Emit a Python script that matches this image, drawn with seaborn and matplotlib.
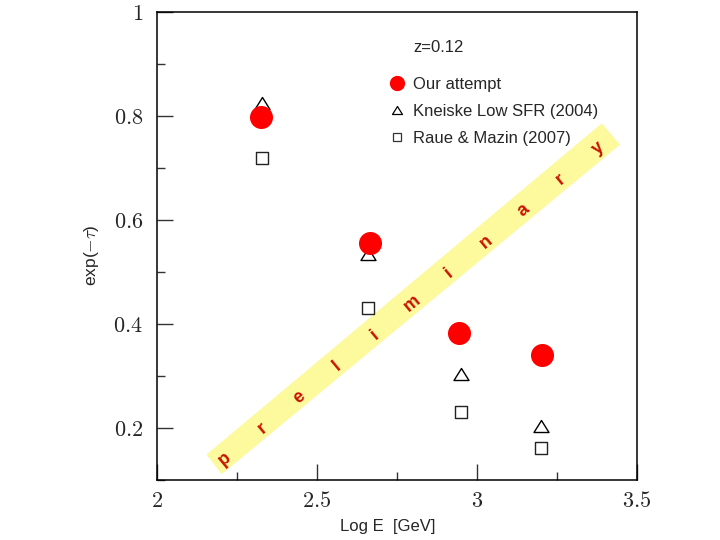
import numpy as np
import pandas as pd
import seaborn as sns
import matplotlib
matplotlib.use("Agg")
import matplotlib.pyplot as plt
from matplotlib.lines import Line2D
from matplotlib.patches import Polygon
from matplotlib.path import Path
from matplotlib.ticker import MultipleLocator, FuncFormatter

# ---- data ----
ours_x = [2.326, 2.665, 2.945, 3.204]
ours_y = [0.798, 0.555, 0.383, 0.341]
kneiske_x = [2.328, 2.660, 2.950, 3.199]
kneiske_y = [0.825, 0.534, 0.303, 0.204]
raue_x = [2.329, 2.658, 2.949, 3.199]
raue_y = [0.720, 0.431, 0.231, 0.161]

series_labels = ["Our attempt", "Kneiske Low SFR (2004)", "Raue & Mazin (2007)"]
redshift_label = "z=0.12"
watermark = "preliminary"

sns.set_theme(style="white")
plt.rcParams["font.family"] = ["Liberation Sans", "DejaVu Sans"]
plt.rcParams["mathtext.fontset"] = "cm"

fig = plt.figure(figsize=(7.2, 5.4), dpi=100)
ax = fig.add_axes([157 / 720, 60 / 540, 480 / 720, 468 / 540])

ax.set_xlim(2.0, 3.5)
ax.set_ylim(0.1, 1.0)

# yellow "preliminary" band
band = Polygon([(2.155, 0.149), (2.202, 0.111), (3.447, 0.745), (3.390, 0.786)],
               closed=True, facecolor="#fcfa9c", edgecolor="none", zorder=0.5)
ax.add_patch(band)
lx = np.linspace(2.2125, 3.379, len(watermark))
ly = np.linspace(0.1398, 0.738, len(watermark))
for ch, px, py in zip(watermark, lx, ly):
    ax.text(px, py, ch, color="#c81400", fontsize=13, fontweight="bold",
            rotation=39.8, ha="center", va="center", zorder=1)

tri = Path([(-1.0, -0.8), (1.0, -0.8), (0.0, 0.8), (-1.0, -0.8)], closed=True)

df_r = pd.DataFrame({"x": raue_x, "y": raue_y})
df_k = pd.DataFrame({"x": kneiske_x, "y": kneiske_y})
df_o = pd.DataFrame({"x": ours_x, "y": ours_y})

sns.scatterplot(data=df_r, x="x", y="y", marker="s", s=74, color="white",
                edgecolor="#222222", linewidth=1.0, ax=ax, zorder=3)
sns.scatterplot(data=df_k, x="x", y="y", marker=tri, s=117, color="white",
                edgecolor="black", linewidth=1.0, ax=ax, zorder=3)
sns.scatterplot(data=df_o, x="x", y="y", marker="o", s=275, color="#ff0000",
                edgecolor="#ff0000", linewidth=0, ax=ax, zorder=4)

# axes styling
for sp in ax.spines.values():
    sp.set_color("black")
    sp.set_linewidth(1.1)
ax.xaxis.set_major_locator(MultipleLocator(0.5))
ax.xaxis.set_minor_locator(MultipleLocator(0.25))
ax.yaxis.set_major_locator(MultipleLocator(0.2))
ax.yaxis.set_minor_locator(MultipleLocator(0.1))
fmt = FuncFormatter(lambda v, p: r"$%g$" % round(v, 3))
ax.xaxis.set_major_formatter(fmt)
ax.yaxis.set_major_formatter(fmt)
ax.tick_params(which="both", direction="in", top=False, right=False,
               left=True, bottom=True, color="#333333", width=1.0)
ax.tick_params(which="major", length=11.5, labelsize=16)
ax.tick_params(which="minor", length=6)
ax.tick_params(axis="x", which="major", pad=8)
ax.tick_params(axis="y", which="major", pad=10)

ax.set_xlabel("Log E  [GeV]", fontsize=12)
ax.xaxis.set_label_coords((387.5 - 157) / 480, -39 / 468)
ax.set_ylabel(r"exp($-\tau$)", fontsize=12.5)
ax.yaxis.set_label_coords((101 - 157) / 480, 0.48)

# legend
handles = [
    Line2D([], [], linestyle="none", marker="o", markersize=11, color="#ff0000",
           markeredgewidth=0),
    Line2D([], [], linestyle="none", marker=tri, markersize=7.2,
           markerfacecolor="white", markeredgecolor="black", markeredgewidth=0.9),
    Line2D([], [], linestyle="none", marker="s", markersize=6,
           markerfacecolor="white", markeredgecolor="#333333", markeredgewidth=0.9),
]
leg = ax.legend(handles, series_labels, loc="upper left",
                bbox_to_anchor=((388.7 - 157) / 480, 1 - (77 - 12) / 468),
                frameon=False, fontsize=12, handlelength=1.0, handletextpad=0.46,
                borderpad=0, borderaxespad=0, labelspacing=0.72)
ax.text((413 - 157) / 480, 1 - (48 - 12) / 468, redshift_label, transform=ax.transAxes,
        fontsize=12, ha="left", va="center")

fig.savefig("out.png", dpi=100)
